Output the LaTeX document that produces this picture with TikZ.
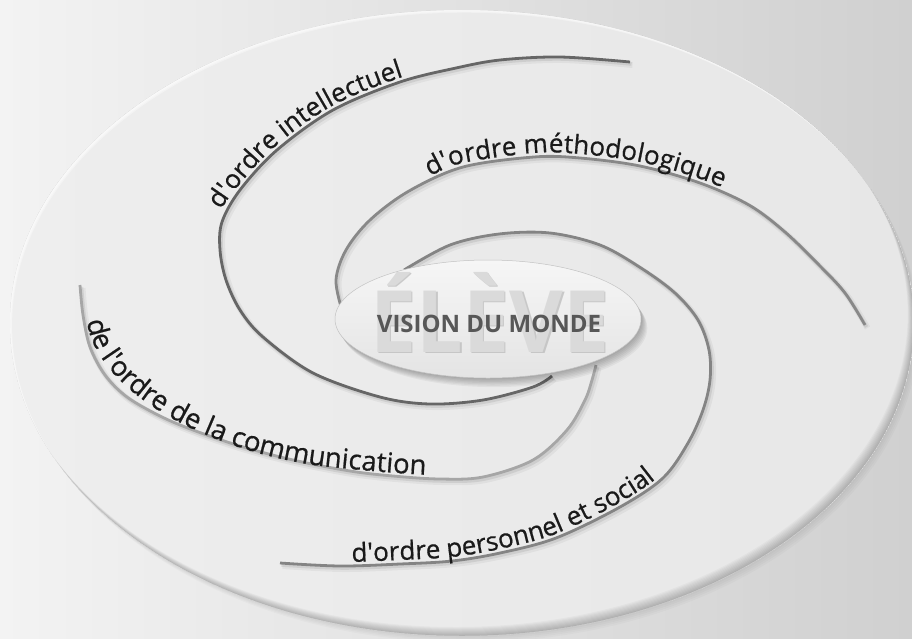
\documentclass[tikz,border=0pt]{standalone}
\usepackage{fontspec}
\setmainfont{Open Sans}
\newfontfamily\armfont{Open Sans}[FakeBold=0.6]
\newfontfamily\ctrfont{Open Sans}
\usetikzlibrary{decorations.text}
\definecolor{bgL}{HTML}{F3F3F3}
\definecolor{bgM}{HTML}{EDEDED}
\definecolor{bgR}{HTML}{D0D0D0}
\definecolor{diskL}{HTML}{EEEEEE}
\definecolor{diskR}{HTML}{E7E7E7}
\definecolor{armA}{HTML}{666666}
\definecolor{armB}{HTML}{888888}
\definecolor{armC}{HTML}{A6A6A6}
\definecolor{armD}{HTML}{848484}
\definecolor{textc}{HTML}{1A1A1A}
\definecolor{ctrT}{HTML}{F6F6F6}
\definecolor{ctrB}{HTML}{E4E4E4}
\definecolor{eleveC}{HTML}{DADADA}
\definecolor{eleveS}{HTML}{B8B8B8}
\definecolor{visionC}{HTML}{575757}
\newcommand\af{\armfont\fontsize{26}{30}\selectfont\color{textc}}
\newcommand\afc{\armfont\fontsize{27.5}{31}\selectfont\color{textc}}
\def\armA{plot[smooth, tension=0.55] coordinates {(630,62) (560,57) (500,60) (456,68) (400,82) (333,110) (277,150) (240,190) (222,222) (220,250) (226,280) (240,310) (263,337) (313,373) (380,397) (430,404) (483,400) (533,387) (552,376)}}
\def\armB{plot[smooth, tension=0.55] coordinates {(865,325) (845,293) (820,266) (785,232) (749,205) (700,183) (640,166) (580,158) (534,157) (463,167) (409,191) (370,220) (346,250) (336,280) (342,310)}}
\def\armC{plot[smooth, tension=0.55] coordinates {(80,285) (83,315) (90,347) (105,375) (127,397) (160,416) (193,430) (240,446) (293,460) (350,471) (393,476) (440,479) (483,477) (533,460) (567,430) (585,400) (592,380) (596,365)}}
\def\armD{plot[smooth, tension=0.55] coordinates {(404,270) (450,245) (499,234) (550,233) (600,245) (641,268) (675,293) (698,320) (709,350) (710,380) (703,410) (688,443) (663,478) (620,507) (556,538) (500,553) (452,561) (400,564) (340,566) (280,563)}}
\tikzset{
  armshadow/.style={line width=6pt, black, opacity=0.045},
  armshadowb/.style={line width=3.5pt, black, opacity=0.08},
  armline/.style={line width=2.8pt},
  armtext/.style={decorate, decoration={text along path, text align=left, raise=4pt}},
}
\begin{document}
\begin{tikzpicture}[x=1pt,y=-1pt]
\useasboundingbox (0,0) rectangle (912,638);
% background
\shade[left color=bgL, middle color=bgM, right color=bgR] (0,0) rectangle (912,638);
% disk outer shadow
\foreach \i in {1,...,4}
  \fill[black, opacity=0.02] (462+1.2*\i, 323+1.6*\i) ellipse [x radius=452pt, y radius=313pt];
% disk
\shade[left color=diskL, right color=diskR] (462,323) ellipse [x radius=452pt, y radius=313pt];
% bevel
\begin{scope}
  \clip (462,323) ellipse [x radius=452pt, y radius=313pt];
  \foreach \i in {1,...,9}
    \fill[black, opacity=0.028, even odd rule] (462,323) ellipse [x radius=452pt, y radius=313pt]
      (462-0.7*\i, 323-1.0*\i) ellipse [x radius=452pt, y radius=313pt];
  \foreach \i in {1,...,3}
    \fill[white, opacity=0.35, even odd rule] (462,323) ellipse [x radius=452pt, y radius=313pt]
      (462+0.7*\i, 323+0.9*\i) ellipse [x radius=452pt, y radius=313pt];
\end{scope}
% arm shadows
\foreach \s in {\armA,\armB,\armC,\armD}{
  \draw[armshadow, shift={(2.5,3)}] \s;
  \draw[armshadowb, shift={(1.5,2)}] \s;
}
% arms
\draw[armline, armA] \armA;
\draw[armline, armB] \armB;
\draw[armline, armC] \armC;
\draw[armline, armD] \armD;
% arm texts
\path[armtext, decoration={text={|\af|d'ordre intellectuel}}]
  plot[smooth, tension=0.55] coordinates {(224,212) (240,190) (277,150) (333,110) (400,82) (456,68) (500,60)};
\path[armtext, decoration={text={|\af|d'ordre méthodologique}}]
  plot[smooth, tension=0.55] coordinates {(432,180) (463,167) (534,157) (580,158) (640,166) (700,183) (749,205) (785,232)};
\path[armtext, decoration={text={|\afc|de l'ordre de la communication}, raise=3pt}]
  (84,322) .. controls (96,400) and (220,458) .. (330,470) .. controls (400,477) and (450,481) .. (500,477);
\path[armtext, decoration={text={|\af|d'ordre personnel et social}}]
  plot[smooth, tension=0.55] coordinates {(352,566) (400,564) (452,561) (500,553) (556,538) (620,507) (663,478) (688,443) (703,410)};
% centre ellipse shadow
\foreach \i in {1,...,7}
  \fill[black, opacity=0.045] (488+0.9*\i, 319+1.3*\i) ellipse [x radius=153pt, y radius=59pt];
% centre ellipse
\shade[top color=ctrT, bottom color=ctrB, draw=ctrB!85!black, line width=0.5pt] (488,319) ellipse [x radius=153pt, y radius=59pt];
% ELEVE
\node[font=\ctrfont\bfseries\fontsize{86}{90}\selectfont, text=eleveS, opacity=0.7, xscale=0.96, anchor=base, inner sep=0pt] (eleveshadow) at (491.5,353.5) {ÉLÈVE};
\node[font=\ctrfont\bfseries\fontsize{86}{90}\selectfont, text=eleveC, xscale=0.96, anchor=base, inner sep=0pt] (eleve) at (490,352) {ÉLÈVE};
% VISION DU MONDE
\node[font=\ctrfont\bfseries\fontsize{24}{28}\selectfont, text=visionC, anchor=base, inner sep=0pt] (vision) at (489,332) {VISION DU MONDE};
\end{tikzpicture}
\end{document}
